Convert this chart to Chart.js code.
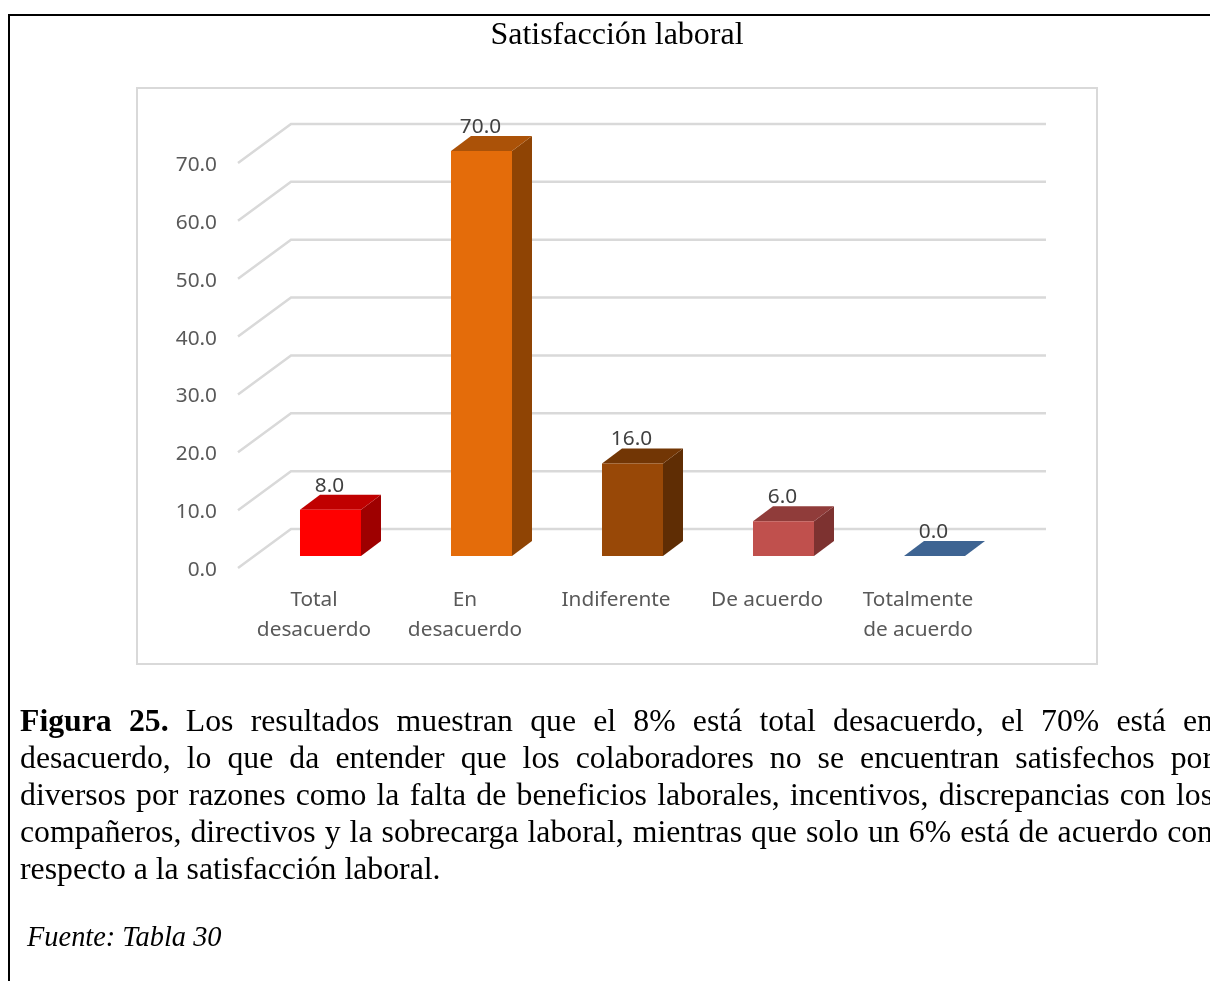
<!DOCTYPE html>
<html lang="es">
<head>
<meta charset="utf-8">
<title>Satisfacción laboral</title>
<script src="https://cdn.jsdelivr.net/npm/chart.js@4/dist/chart.umd.js"></script>
<style>
  html, body { margin: 0; padding: 0; background: #fff; }
  body { position: relative; width: 1210px; height: 981px; overflow: hidden; font-family: "Liberation Serif", serif; color: #000; }
  #box { position: absolute; left: 8px; top: 14px; width: 1300px; height: 1100px; border: 2px solid #000; }
  #frame { position: absolute; left: 136px; top: 87px; width: 958px; height: 574px; border: 2px solid #d9d9d9; }
  #graph { position: absolute; left: 0; top: 0; }
  #title { position: absolute; left: 0; width: 1234px; top: 15px; text-align: center; font-size: 32px; line-height: 36px; white-space: nowrap; }
  #caption { position: absolute; left: 20px; top: 702px; width: 1193px; font-size: 31.75px; line-height: 37px; }
  #caption div { text-align: justify; text-align-last: justify; white-space: normal; }
  #caption div.last { text-align-last: left; }
  #source { position: absolute; left: 27px; top: 920px; font-size: 28.4px; line-height: 34px; font-style: italic; }
</style>
</head>
<body>
<div id="box"></div>
<div id="frame"></div>
<canvas id="graph" width="1210" height="981"></canvas>
<div id="title">Satisfacción laboral</div>
<div id="caption">
  <div><b>Figura 25.</b> Los resultados muestran que el 8% está total desacuerdo, el 70% está en</div>
  <div>desacuerdo, lo que da entender que los colaboradores no se encuentran satisfechos por</div>
  <div>diversos por razones como la falta de beneficios laborales, incentivos, discrepancias con los</div>
  <div>compañeros, directivos y la sobrecarga laboral, mientras que solo un 6% está de acuerdo con</div>
  <div class="last">respecto a la satisfacción laboral.</div>
</div>
<div id="source">Fuente: Tabla 30</div>
<script>
"use strict";
var categories = [["Total", "desacuerdo"], ["En", "desacuerdo"], "Indiferente", "De acuerdo", ["Totalmente", "de acuerdo"]];
var values = [8, 70, 16, 6, 0];
var frontColors = ["#ff0000", "#e46c0a", "#984807", "#c0504d", "#376092"];
var topColors = ["#c00000", "#ab5208", "#723605", "#903c3a", "#3e6492"];
var sideColors = ["#9e0000", "#8f4404", "#5f2d04", "#7d3230", "#2c4d75"];

var labelFont = "'Noto Sans', sans-serif";
var WALL_DX = 53, WALL_DY = 39; //depth of the floor and side wall
var BAR_DX = 20, BAR_DY = 15;   //depth of one bar
var SHIFT_X = 17, SHIFT_Y = 12; //bars stand in the middle of the floor

function face(ctx, color, pts) {
  ctx.fillStyle = color;
  ctx.beginPath();
  ctx.moveTo(pts[0][0], pts[0][1]);
  for (let i = 1; i < pts.length; i++) ctx.lineTo(pts[i][0], pts[i][1]);
  ctx.closePath();
  ctx.fill();
}

var fake3d = {
  id: "fake3d",
  beforeDatasetsDraw: function (chart) {
    //wall lines: diagonal on the left, then straight along the back
    var ctx = chart.ctx, y = chart.scales.y, a = chart.chartArea;
    ctx.save();
    ctx.strokeStyle = "#d9d9d9";
    ctx.lineWidth = 2.5;
    y.ticks.forEach(function (t) {
      var py = y.getPixelForValue(t.value);
      ctx.beginPath();
      ctx.moveTo(a.left, py);
      ctx.lineTo(a.left + WALL_DX, py - WALL_DY);
      ctx.lineTo(a.right + WALL_DX, py - WALL_DY);
      ctx.stroke();
    });
    ctx.restore();
  },
  beforeDatasetDraw: function (chart, args) {
    var ctx = chart.ctx;
    ctx.save();
    ctx.translate(SHIFT_X, -SHIFT_Y);
    args.meta.data.forEach(function (bar, i) {
      var l = bar.x - bar.width / 2, r = bar.x + bar.width / 2;
      face(ctx, sideColors[i], [[r, bar.y], [r + BAR_DX, bar.y - BAR_DY], [r + BAR_DX, bar.base - BAR_DY], [r, bar.base]]);
      face(ctx, topColors[i], [[l, bar.y], [l + BAR_DX, bar.y - BAR_DY], [r + BAR_DX, bar.y - BAR_DY], [r, bar.y]]);
    });
  },
  afterDatasetDraw: function (chart) {
    chart.ctx.restore();
  },
  afterDatasetsDraw: function (chart) {
    //value labels over each bar
    var ctx = chart.ctx, meta = chart.getDatasetMeta(0);
    ctx.save();
    ctx.font = "20.8px " + labelFont;
    ctx.fillStyle = "#404040";
    ctx.textAlign = "center";
    ctx.textBaseline = "middle";
    meta.data.forEach(function (bar, i) {
      ctx.fillText(values[i].toFixed(1), bar.x + SHIFT_X - 1, bar.y - SHIFT_Y - 24);
    });
    ctx.restore();
  },
};

new Chart(document.getElementById("graph"), {
  type: "bar",
  plugins: [fake3d],
  data: {
    labels: categories,
    datasets: [
      {
        data: values,
        backgroundColor: frontColors,
        borderWidth: 0,
        categoryPercentage: 1,
        barPercentage: 0.404,
        clip: false,
      },
    ],
  },
  options: {
    responsive: false,
    animation: false,
    layout: { padding: { left: 158, right: 217, top: 163, bottom: 323 } },
    plugins: { legend: { display: false }, title: { display: false }, tooltip: { enabled: false } },
    scales: {
      x: {
        grid: { display: false },
        border: { display: false },
        ticks: {
          autoSkip: false,
          maxRotation: 0,
          padding: 9,
          labelOffset: 0.5,
          color: "#595959",
          font: { family: labelFont, size: 20.8, lineHeight: 1.44 },
        },
        afterFit: function (scale) {
          scale.height = 90;
        },
      },
      y: {
        min: 0,
        max: 70,
        grid: { display: false, drawTicks: false },
        border: { display: false },
        ticks: {
          stepSize: 10,
          padding: 21,
          labelOffset: 2,
          color: "#595959",
          font: { family: labelFont, size: 20.8 },
          callback: function (v) {
            return v.toFixed(1);
          },
        },
        afterFit: function (scale) {
          scale.width = 80;
        },
      },
    },
  },
});
</script>
</body>
</html>
